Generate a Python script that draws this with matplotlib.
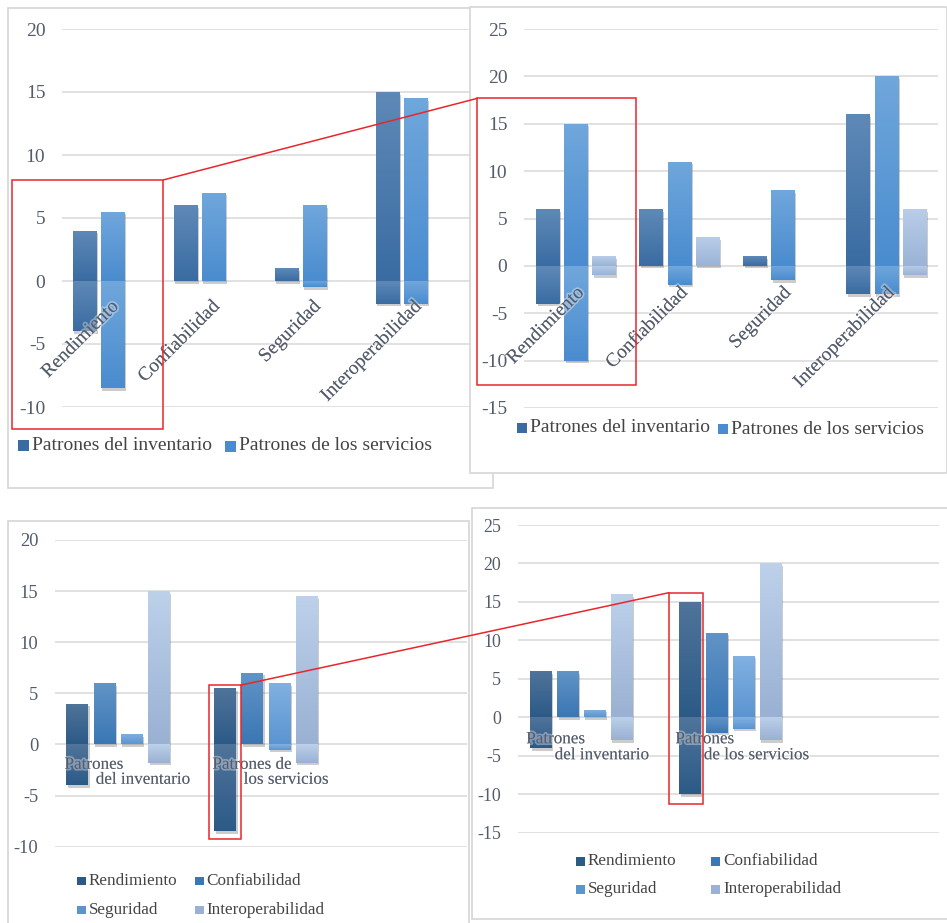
import numpy as np
import matplotlib
matplotlib.use("Agg")
import matplotlib.pyplot as plt
import matplotlib.patheffects as pe
from matplotlib.patches import Rectangle, ConnectionPatch
from matplotlib.colors import to_rgb

plt.rcParams["font.family"] = ["Liberation Serif", "DejaVu Serif"]

# ---------------- data ----------------
atributos = ["Rendimiento", "Confiabilidad", "Seguridad", "Interoperabilidad"]
grupos = ["Patrones del inventario", "Patrones de los servicios"]

# first study (upper-left chart), positive and negative parts per attribute
inv_pos_a = [4, 6, 1, 15]
inv_neg_a = [-4, 0, 0, -1.8]
serv_pos_a = [5.5, 7, 6, 14.5]
serv_neg_a = [-8.5, 0, -0.5, -1.8]

# second study (upper-right chart)
inv_pos_b = [6, 6, 1, 16]
inv_neg_b = [-4, 0, 0, -3]
serv_pos_b = [15, 11, 8, 20]
serv_neg_b = [-10, -2, -1.5, -3]
otros_pos_b = [1, 3, 0, 6]
otros_neg_b = [-1, 0, 0, -1]

ticks_a = [-10, -5, 0, 5, 10, 15, 20]
ticks_b = [-15, -10, -5, 0, 5, 10, 15, 20, 25]

etiquetas_c = [("Patrones", "del inventario"), ("Patrones de", "los servicios")]
etiquetas_d = [("Patrones", "del inventario"), ("Patrones", "de los servicios")]

# ---------------- styling ----------------
W, H = 947, 923
fig = plt.figure(figsize=(W / 100, H / 100), dpi=100)

C_INV = ("#5e89b7", "#3a6ca2")
C_SERV = ("#70a7dc", "#4a8ccf")
C_OTRO = ("#b9cde9", "#9ab3d6")
C_ATR = [("#50749a", "#2c5a87"), ("#6294c6", "#3a77b4"),
         ("#82b1e2", "#5b95d1"), ("#bdd1ea", "#9ab1d3")]
TXT = "#545c6c"
GRID = "#d9d9d9"
RED = "#e8262b"
HALO = [pe.withStroke(linewidth=2.5, foreground=(1, 1, 1, 0.35))]


def px_axes(x0, y0, x1, y1, z=1):
    return fig.add_axes([x0 / W, 1 - y1 / H, (x1 - x0) / W, (y1 - y0) / H], zorder=z)


bg = px_axes(0, 0, W, H, z=0)
bg.set_xlim(0, W)
bg.set_ylim(H, 0)
bg.axis("off")

# panel frames (later ones sit on top of earlier ones)
for (x0, y0, x1, y1) in [(7.5, 7.5, 493, 488), (470, 7, 946.5, 473),
                         (7.5, 521, 469, 930), (471.5, 507.5, 950, 918.5)]:
    bg.add_patch(Rectangle((x0, y0), x1 - x0, y1 - y0, fc="white",
                           ec="#d6d6d6", lw=1.2))


def gradient_bar(ax, x, w, v, colors):
    if v == 0:
        return
    top, bot = colors
    b = ax.bar(x, v, w, color=bot, lw=0, zorder=2)[0]
    b.set_path_effects([pe.SimplePatchShadow(offset=(1.2, -1.8), shadow_rgbFace="black",
                                             alpha=0.2), pe.Normal()])
    t = np.linspace(0, 1, 60)[:, None]
    c0, c1 = np.array(to_rgb(top)), np.array(to_rgb(bot))
    img = (c0 * (1 - t) + c1 * t)[:, None, :]
    lo, hi = min(0, v), max(0, v)
    im = ax.imshow(img, extent=(x - w / 2, x + w / 2, lo, hi), origin="upper",
                   aspect="auto", interpolation="bilinear", zorder=2.1)
    im.set_clip_path(b)


def style(ax, xlim, ylim, yticks, fs):
    ax.set_xlim(*xlim)
    ax.set_ylim(*ylim)
    ax.set_yticks(yticks)
    ax.set_yticklabels([f"{t:g}" for t in yticks])
    ax.set_xticks([])
    ax.tick_params(axis="y", length=0, pad=12, labelsize=fs, labelcolor=TXT)
    ax.grid(axis="y", color=GRID, lw=1.1)
    ax.set_axisbelow(True)
    for s in ax.spines.values():
        s.set_visible(False)
    ax.set_facecolor("none")


def legend(entries, sq, fs, gap):
    for label, color, x, y in entries:
        bg.add_patch(Rectangle((x, y - sq / 2), sq, sq, color=color, lw=0))
        bg.text(x + sq + gap, y, label, va="center", ha="left", fontsize=fs, color="#444444")


# ---------------- upper-left chart ----------------
ax1 = px_axes(62, 29, 470, 407)
xa = np.arange(len(atributos))
step, wid = 0.277, 0.235
for k, (pos, neg, col) in enumerate([(inv_pos_a, inv_neg_a, C_INV),
                                     (serv_pos_a, serv_neg_a, C_SERV)]):
    for i in range(len(atributos)):
        gradient_bar(ax1, xa[i] + (k - 1) * step, wid, pos[i], col)
        gradient_bar(ax1, xa[i] + (k - 1) * step, wid, neg[i], col)
style(ax1, (-0.5, 3.54), (-10, 20), ticks_a, 14)
for i, name in enumerate(atributos):
    ax1.annotate(name, xy=(xa[i], 0), xytext=(-1.5, -12), textcoords="offset points",
                 rotation=45, rotation_mode="anchor", ha="right", va="top",
                 fontsize=14, color=TXT, zorder=5, path_effects=HALO)
legend([(grupos[0], C_INV[1], 18, 445), (grupos[1], C_SERV[1], 225, 446)], 11, 14, 3)

# ---------------- upper-right chart ----------------
ax2 = px_axes(524, 29, 938, 408)
step, wid = 0.272, 0.226
for k, (pos, neg, col) in enumerate([(inv_pos_b, inv_neg_b, C_INV),
                                     (serv_pos_b, serv_neg_b, C_SERV),
                                     (otros_pos_b, otros_neg_b, C_OTRO)]):
    for i in range(len(atributos)):
        gradient_bar(ax2, xa[i] + (k - 1) * step, wid, pos[i], col)
        gradient_bar(ax2, xa[i] + (k - 1) * step, wid, neg[i], col)
style(ax2, (-0.5, 3.5), (-15, 25), ticks_b, 14)
for i, name in enumerate(atributos):
    ax2.annotate(name, xy=(xa[i], 0), xytext=(0, -13), textcoords="offset points",
                 rotation=45, rotation_mode="anchor", ha="right", va="top",
                 fontsize=14, color=TXT, zorder=5, path_effects=HALO)
legend([(grupos[0], C_INV[1], 517, 428), (grupos[1], C_SERV[1], 718, 429)], 10, 14, 3)

# ---------------- lower charts: same values grouped by pattern ----------------
vals_c = [(list(p), list(n)) for p, n in zip(zip(inv_pos_a, serv_pos_a), zip(inv_neg_a, serv_neg_a))]
vals_d = [(list(p), list(n)) for p, n in zip(zip(inv_pos_b, serv_pos_b), zip(inv_neg_b, serv_neg_b))]
xg = np.arange(len(grupos))

ax3 = px_axes(55, 540, 467, 846.7)
step, wid = 0.184, 0.147
for k, (pos, neg) in enumerate(vals_c):
    for g in range(len(grupos)):
        gradient_bar(ax3, xg[g] + (k - 1.5) * step, wid, pos[g], C_ATR[k])
        gradient_bar(ax3, xg[g] + (k - 1.5) * step, wid, neg[g], C_ATR[k])
style(ax3, (-0.426, 2.36), (-10, 20), ticks_a, 13.3)
for g, (l1, l2) in enumerate(etiquetas_c):
    ax3.annotate(l1, xy=(xg[g], 0), xytext=(-38.5, -17.5), textcoords="offset points",
                 ha="left", va="baseline", fontsize=12.3, color=TXT, zorder=5,
                 path_effects=HALO)
    ax3.annotate(l2, xy=(xg[g], 0), xytext=(-16, -28.3), textcoords="offset points",
                 ha="left", va="baseline", fontsize=12.3, color=TXT, zorder=5,
                 path_effects=HALO)
legend([(atributos[0], C_ATR[0][1], 77, 881), (atributos[1], C_ATR[1][1], 195, 881),
        (atributos[2], C_ATR[2][1], 77, 910), (atributos[3], C_ATR[3][1], 195, 910)],
       8.5, 12.3, 3)

ax4 = px_axes(518, 525, 939, 832.7)
step, wid = 0.18, 0.145
for k, (pos, neg) in enumerate(vals_d):
    for g in range(len(grupos)):
        gradient_bar(ax4, xg[g] + (k - 1.5) * step, wid, pos[g], C_ATR[k])
        gradient_bar(ax4, xg[g] + (k - 1.5) * step, wid, neg[g], C_ATR[k])
style(ax4, (-0.423, 2.40), (-15, 25), ticks_b, 12.9)
for g, (l1, l2) in enumerate(etiquetas_d):
    ax4.annotate(l1, xy=(xg[g], 0), xytext=(-39.5, -18.7), textcoords="offset points",
                 ha="left", va="baseline", fontsize=12.3, color=TXT, zorder=5,
                 path_effects=HALO)
    ax4.annotate(l2, xy=(xg[g], 0), xytext=(-19, -30.2), textcoords="offset points",
                 ha="left", va="baseline", fontsize=12.3, color=TXT, zorder=5,
                 path_effects=HALO)
legend([(atributos[0], C_ATR[0][1], 576, 861), (atributos[1], C_ATR[1][1], 711, 861),
        (atributos[2], C_ATR[2][1], 576, 889), (atributos[3], C_ATR[3][1], 711, 889)],
       9, 12.3, 3)

# ---------------- highlight boxes and connectors ----------------
def box(ax, x0, x1, y0, y1):
    ax.add_patch(Rectangle((x0, y0), x1 - x0, y1 - y0, fill=False, ec=RED, lw=1.1,
                           clip_on=False, zorder=20))


box(ax1, -0.998, 0.503, -11.75, 8.02)
box(ax2, -0.951, 0.582, -12.52, 17.68)
box(ax3, 0.617, 0.831, -9.26, 5.81)
box(ax4, 0.589, 0.816, -11.28, 16.2)

for axA, pA, axB, pB in [(ax1, (0.503, 8.02), ax2, (-0.951, 17.68)),
                         (ax3, (0.831, 5.81), ax4, (0.589, 16.2))]:
    con = ConnectionPatch(xyA=pA, coordsA=axA.transData, xyB=pB, coordsB=axB.transData,
                          color=RED, lw=1.1, zorder=20)
    fig.add_artist(con)

fig.savefig("out.png", dpi=100)
